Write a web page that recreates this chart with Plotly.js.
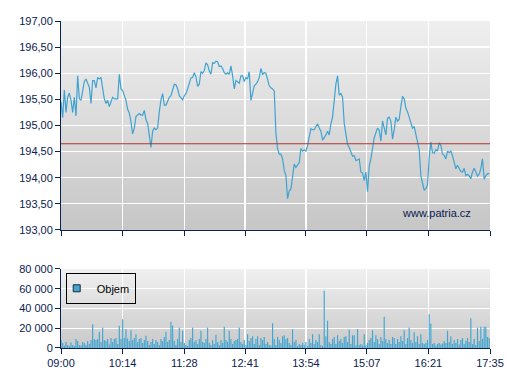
<!DOCTYPE html>
<html><head><meta charset="utf-8">
<script src="https://cdn.plot.ly/plotly-3.0.1.min.js"></script>
<style>html,body{margin:0;padding:0;background:#fff}#chart{width:507px;height:380px}</style>
</head><body><div id="chart"></div>
<script>
// ---- data ----
const sessionDate = '2024-01-01';
const sessionStartMinutes = 9 * 60;   // 09:00
const sampleStepMinutes = 2;          // one reading every 2 minutes

const price = [
195.45,195.15,195.68,195.25,195.54,195.62,195.48,195.25,195.54,195.18,
195.95,195.51,195.48,195.67,195.84,195.89,195.80,195.73,195.42,195.86,
195.86,195.72,195.92,195.89,195.92,195.73,195.51,195.42,195.48,195.36,
195.45,195.54,195.51,195.51,195.51,195.98,195.70,195.67,195.56,195.48,
195.31,195.24,195.07,194.84,194.95,195.17,195.20,195.23,195.20,195.20,
195.29,195.11,195.04,194.76,194.58,194.89,194.95,194.92,194.95,195.26,
195.49,195.61,195.39,195.39,195.48,195.54,195.57,195.68,195.79,195.78,
195.70,195.57,195.54,195.49,195.57,195.61,195.70,195.79,195.91,195.92,
196.01,195.93,195.75,195.79,196.03,196.00,196.05,196.20,196.16,196.04,
195.98,196.20,196.19,196.23,196.22,196.13,196.14,196.09,196.01,195.98,
196.01,195.98,196.14,195.95,195.70,195.86,195.84,195.81,195.95,195.95,
195.84,195.92,195.89,196.03,195.48,195.64,195.76,195.79,195.84,195.92,
196.09,195.98,196.01,196.00,195.89,195.76,195.72,195.70,195.66,194.86,
194.55,194.45,194.45,194.36,194.14,194.04,193.60,193.75,193.78,193.98,
194.26,194.20,194.26,194.29,194.56,194.51,194.53,194.51,194.62,194.76,
194.94,194.92,194.92,194.98,195.03,194.95,194.89,194.72,194.76,194.82,
194.89,194.82,195.03,195.16,195.48,195.79,195.95,195.58,195.61,195.54,
195.04,194.81,194.64,194.58,194.51,194.41,194.42,194.33,194.34,194.36,
194.11,194.09,193.95,194.11,193.73,194.22,194.36,194.61,194.76,194.86,
194.95,194.91,194.70,195.09,194.92,194.82,195.14,195.16,195.08,194.74,
194.92,195.16,195.08,195.12,195.36,195.56,195.51,195.33,195.26,195.16,
195.06,194.95,194.98,194.83,194.67,194.54,194.04,193.86,193.76,193.79,
193.86,194.39,194.68,194.48,194.47,194.54,194.51,194.67,194.62,194.45,
194.43,194.36,194.51,194.48,194.51,194.42,194.26,194.17,194.24,194.17,
194.12,194.11,194.18,194.04,194.06,194.04,193.98,194.11,194.18,194.11,
194.03,194.07,194.17,194.36,193.97,194.04,194.08,194.08
];

const volume = [
8000,5000,2500,6000,3000,2000,5500,3000,2000,9000,
7000,3000,2500,6000,5000,3000,7000,4000,8000,24000,
9000,8000,9000,16500,6000,20500,8000,7000,9000,3500,
10000,6000,9000,10000,4000,22500,9000,29000,10000,19000,
9500,7000,18000,8000,10000,14000,6000,9000,10000,5000,
8000,12500,7000,3000,6000,9000,4000,8000,6000,3000,
9000,7000,11000,16500,6000,8000,26500,22500,7000,3000,
9000,20500,6000,17500,5000,3000,2000,8000,10000,20500,
6000,8000,4000,9000,17500,6000,5000,9000,20500,5000,
3000,8000,4000,13500,6000,3000,8000,5000,21500,8000,
6000,17500,9000,4000,7000,8000,9000,20500,6000,4000,
8000,3000,14000,7000,10000,12000,4000,9000,12000,3000,
10000,8000,11000,4000,6000,3000,2500,25000,9000,3000,
11000,8000,5000,12000,13000,9000,10000,5000,3000,19000,
6000,8000,2000,4000,3000,5000,3000,6000,2000,9000,
5000,14000,4000,8000,6000,14000,3000,2000,58000,12000,
27500,6000,4000,9000,11000,4000,13000,7000,9000,5000,
11000,12000,6000,18500,4000,13000,13000,2500,19000,3000,
4000,2500,14000,3000,5000,8000,10000,18000,6000,13000,
9000,4000,11000,7000,31500,9000,5000,8000,4000,11000,
10000,4000,9000,6000,12000,7000,18000,4000,10000,20500,
8000,5000,16000,6000,12000,4000,14000,5000,4000,5000,
8000,34000,24500,4000,5000,2500,4000,5000,3500,4500,
7000,5000,17500,6000,12000,4000,8000,5000,9000,3500,
8000,10000,4000,7000,10000,6000,30000,4000,9000,3000,
20500,7000,21500,9000,21500,21500,11000,10000
];

const tickLabels = ['09:00','10:14','11:28','12:41','13:54','15:07','16:21','17:35'];
const prevClose = 194.65;
const volumeName = 'Objem';
const watermarkText = 'www.patria.cz';

// ---- helpers ----
function pad(n){ return String(n).padStart(2,'0'); }
function stamp(totalMin){ return sessionDate + ' ' + pad(Math.floor(totalMin/60)) + ':' + pad(totalMin % 60); }
const times = price.map((_, i) => stamp(sessionStartMinutes + i * sampleStepMinutes));
const tickVals = tickLabels.map(t => sessionDate + ' ' + t);
const xRange = [tickVals[0], tickVals[tickVals.length - 1]];

function gradient(top, bottom){
  const svg = '<svg xmlns="http://www.w3.org/2000/svg" width="10" height="100" viewBox="0 0 10 100" preserveAspectRatio="none">' +
    '<defs><linearGradient id="g" x1="0" y1="0" x2="0" y2="1"><stop offset="0" stop-color="' + top + '"/>' +
    '<stop offset="1" stop-color="' + bottom + '"/></linearGradient></defs>' +
    '<rect width="10" height="100" fill="url(#g)"/></svg>';
  return 'data:image/svg+xml;charset=utf-8,' + encodeURIComponent(svg);
}

const navy = '#0b2150';
const blue = '#3fa3d1';

const traces = [
  { type:'scatter', mode:'lines', x: times, y: price, xaxis:'x', yaxis:'y',
    line:{color: blue, width:1.2}, showlegend:false, hoverinfo:'skip' },
  { type:'bar', x: times, y: volume, xaxis:'x2', yaxis:'y2',
    marker:{color: '#43a6d2', line:{width:0}}, showlegend:false, hoverinfo:'skip' },
  { type:'scatter', mode:'markers', x:[null], y:[null], xaxis:'x2', yaxis:'y2', name: volumeName,
    marker:{symbol:'square', size:7, color:'#43a6d2', line:{color:'#1b2b3b', width:1}}, showlegend:true }
];

const baseX = {
  type:'date', range: xRange, tickvals: tickVals, ticktext: tickLabels,
  ticks:'outside', ticklen:5, tickcolor: navy, tickwidth:1,
  showline:true, linecolor: navy, linewidth:1,
  showgrid:true, gridcolor:'#ffffff', gridwidth:1.3, zeroline:false, fixedrange:true
};
const baseY = {
  ticks:'outside', ticklen:5, tickcolor: navy, tickwidth:1,
  showline:true, linecolor: navy, linewidth:1,
  showgrid:true, gridcolor:'#ffffff', gridwidth:1.3, zeroline:false, fixedrange:true
};

const layout = {
  width:507, height:380,
  margin:{l:61, r:17, t:21, b:32},
  paper_bgcolor:'#ffffff', plot_bgcolor:'rgba(0,0,0,0)',
  separators:', ',
  font:{family:'"Liberation Sans", Arial, sans-serif', size:11, color: navy},
  bargap:0.3,
  showlegend:true,
  legend:{x:0.011, y:0.23, xanchor:'left', yanchor:'top', bgcolor:'rgba(0,0,0,0)',
          bordercolor:'#000000', borderwidth:1, indentation:-10, font:{color:'#000000', size:11}},
  xaxis: Object.assign({}, baseX, {domain:[0,1], anchor:'y', showticklabels:false}),
  yaxis: Object.assign({}, baseY, {domain:[0.361,1], anchor:'x', range:[193,197], tick0:193, dtick:0.5, tickformat:'.2f'}),
  xaxis2: Object.assign({}, baseX, {domain:[0,1], anchor:'y2', showticklabels:true}),
  yaxis2: Object.assign({}, baseY, {domain:[0,0.242], anchor:'x2', range:[0,80000], tick0:0, dtick:20000, tickformat:',d'}),
  images:[
    {source: gradient('#efefef','#c6c6c6'), xref:'x domain', yref:'y domain', x:0, y:1, sizex:1, sizey:1,
     xanchor:'left', yanchor:'top', sizing:'stretch', layer:'below'},
    {source: gradient('#f0f0f0','#c9c9c9'), xref:'x2 domain', yref:'y2 domain', x:0, y:1, sizex:1, sizey:1,
     xanchor:'left', yanchor:'top', sizing:'stretch', layer:'below'}
  ],
  shapes:[
    {type:'line', xref:'x domain', yref:'y', x0:0, x1:1, y0:prevClose, y1:prevClose,
     line:{color:'#b03434', width:1}, layer:'above'}
  ],
  annotations:[
    {text: watermarkText, xref:'x domain', yref:'y domain', x:0.96, y:0.083, xanchor:'right', yanchor:'middle',
     showarrow:false, font:{size:11, color: navy}}
  ]
};

Plotly.newPlot('chart', traces, layout, {displayModeBar:false, staticPlot:true});
</script></body></html>
